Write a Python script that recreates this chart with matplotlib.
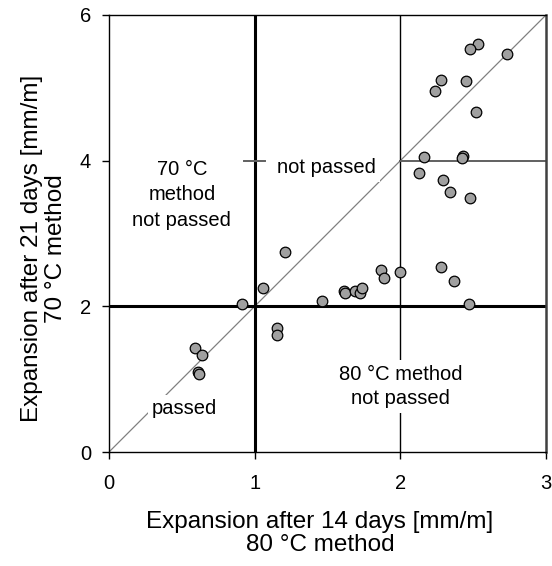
import matplotlib
matplotlib.use("Agg")
import matplotlib.pyplot as plt

plt.rcParams['font.family'] = ['Liberation Sans', 'DejaVu Sans']

# Data (80 °C method 14-day expansion, 70 °C method 21-day expansion), mm/m
x_vals = [0.59, 0.64, 0.61, 0.62, 0.91, 1.15, 1.15, 1.06, 1.21, 1.46,
          1.61, 1.62, 1.69, 1.72, 1.74, 1.87, 1.89, 2.00, 2.53, 2.48,
          2.73, 2.28, 2.24, 2.45, 2.52, 2.16, 2.43, 2.42, 2.13, 2.29,
          2.34, 2.48, 2.28, 2.37, 2.47]
y_vals = [1.43, 1.33, 1.10, 1.07, 2.03, 1.70, 1.61, 2.25, 2.75, 2.07,
          2.21, 2.18, 2.21, 2.18, 2.25, 2.50, 2.39, 2.47, 5.60, 5.54,
          5.47, 5.11, 4.96, 5.10, 4.67, 4.05, 4.07, 4.04, 3.83, 3.74,
          3.57, 3.49, 2.54, 2.35, 2.03]

x_ticks = [0, 1, 2, 3]
y_ticks = [0, 2, 4, 6]
x_limit_80 = 1.0   # 80 °C method limit
y_limit_70 = 2.0   # 70 °C method limit

fig = plt.figure(figsize=(5.52, 5.66), dpi=100)
ax = fig.add_axes([109/552, 1-452/566, (546-109)/552, (452-15)/566])
ax.set_xlim(0, 3)
ax.set_ylim(0, 6)

# Reference lines
ax.plot([0, 3], [0, 6], color='#808080', lw=0.9, zorder=1)
ax.axvline(x_limit_80, color='black', lw=2.2, zorder=1.5)
ax.axhline(y_limit_70, color='black', lw=2.2, zorder=1.5)
ax.axvline(2, color='black', lw=1.0, zorder=1.5)
ax.plot([2, 3], [4, 4], color='#606060', lw=1.4, zorder=1.5)
ax.plot([0.93, 1.07], [4, 4], color='#606060', lw=1.4, zorder=1.5)

# Region labels with white background
bbox = dict(facecolor='white', edgecolor='none', pad=3)
ax.text(0.50, 3.53, "70 °C\nmethod\nnot passed", ha='center', va='center',
        fontsize=14.5, linespacing=1.42, bbox=bbox, zorder=2)
ax.text(1.49, 3.90, "not passed", ha='center', va='center',
        fontsize=14.5, bbox=bbox, zorder=2)
ax.text(0.52, 0.60, "passed", ha='center', va='center',
        fontsize=14.5, bbox=bbox, zorder=2)
ax.text(2.0, 0.90, "80 °C method\nnot passed", ha='center', va='center',
        fontsize=14.5, linespacing=1.38, bbox=bbox, zorder=2)

# Data points
ax.scatter(x_vals, y_vals, s=58, facecolor='#a0a0a0', edgecolor='black',
           linewidth=0.9, zorder=3)

ax.set_xticks(x_ticks)
ax.set_yticks(y_ticks)
ax.tick_params(direction='out', length=5, width=1, labelsize=14.5)
ax.tick_params(axis='x', pad=11)
ax.tick_params(axis='y', pad=8)
for s in ax.spines.values():
    s.set_linewidth(1.0)
ax.spines['right'].set_linewidth(1.8)
ax.spines['right'].set_color('#404040')

ax.set_xlabel("Expansion after 14 days [mm/m]\n80 °C method", fontsize=17.5,
              linespacing=1.05)
ax.set_ylabel("Expansion after 21 days [mm/m]\n70 °C method", fontsize=17.5,
              linespacing=1.12)
ax.xaxis.set_label_coords(0.483, -0.136)
ax.yaxis.set_label_coords(-0.097, 0.465)

fig.savefig("out.png", dpi=100)
